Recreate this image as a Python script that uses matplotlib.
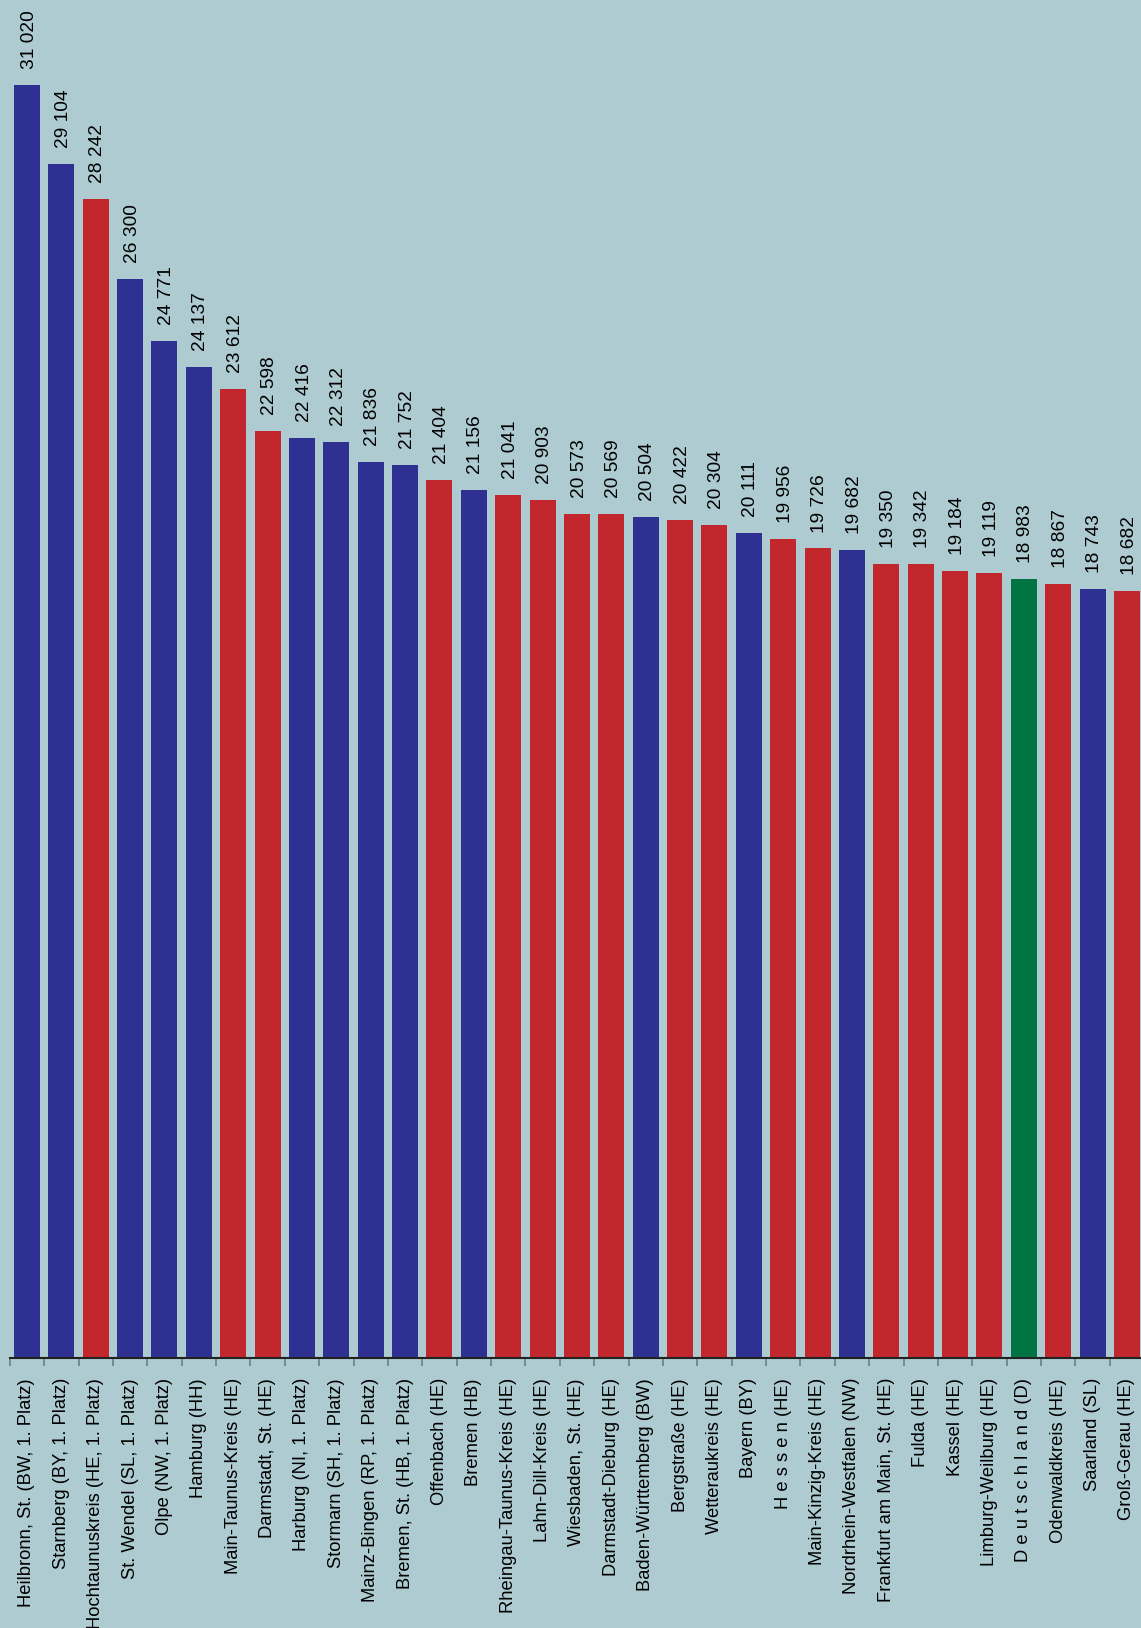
import matplotlib.pyplot as plt
import numpy as np

plt.rcParams['font.family'] = ['Liberation Sans', 'DejaVu Sans']

# Data
regions = [
    'Heilbronn, St. (BW, 1. Platz)', 'Starnberg (BY, 1. Platz)', 'Hochtaunuskreis (HE, 1. Platz)',
    'St. Wendel (SL, 1. Platz)', 'Olpe (NW, 1. Platz)', 'Hamburg (HH)', 'Main-Taunus-Kreis (HE)',
    'Darmstadt, St. (HE)', 'Harburg (NI, 1. Platz)', 'Stormarn (SH, 1. Platz)',
    'Mainz-Bingen (RP, 1. Platz)', 'Bremen, St. (HB, 1. Platz)', 'Offenbach (HE)', 'Bremen (HB)',
    'Rheingau-Taunus-Kreis (HE)', 'Lahn-Dill-Kreis (HE)', 'Wiesbaden, St. (HE)',
    'Darmstadt-Dieburg (HE)', 'Baden-Württemberg (BW)', 'Bergstraße (HE)', 'Wetteraukreis (HE)',
    'Bayern (BY)', 'H e s s e n (HE)', 'Main-Kinzig-Kreis (HE)', 'Nordrhein-Westfalen (NW)',
    'Frankfurt am Main, St. (HE)', 'Fulda (HE)', 'Kassel (HE)', 'Limburg-Weilburg (HE)',
    'D e u t s c h l a n d (D)', 'Odenwaldkreis (HE)', 'Saarland (SL)', 'Groß-Gerau (HE)',
]
values = [31020, 29104, 28242, 26300, 24771, 24137, 23612, 22598, 22416, 22312, 21836, 21752,
          21404, 21156, 21041, 20903, 20573, 20569, 20504, 20422, 20304, 20111, 19956, 19726,
          19682, 19350, 19342, 19184, 19119, 18983, 18867, 18743, 18682]
# b = other state, r = Hessen, g = Germany
groups = ['b', 'b', 'r', 'b', 'b', 'b', 'r', 'r', 'b', 'b', 'b', 'b', 'r', 'b', 'r', 'r', 'r',
          'r', 'b', 'r', 'r', 'b', 'r', 'r', 'b', 'r', 'r', 'r', 'r', 'g', 'r', 'b', 'r']

palette = {'b': '#2e3192', 'r': '#c1272d', 'g': '#007543'}
bg = '#aecbd2'

fig = plt.figure(figsize=(11.41, 16.28), dpi=100, facecolor=bg)
ax = fig.add_axes([9.8 / 1141, 270 / 1628, 33 * 34.375 / 1141, 1358 / 1628])
ax.set_facecolor(bg)

x = np.arange(len(values))
ax.bar(x, values, width=0.756, color=[palette[g] for g in groups])

for xi, v in zip(x, values):
    label = f'{v:,}'.replace(',', ' ')
    ax.annotate(label, (xi, v), xytext=(1.5, 11.5), textcoords='offset points',
                rotation=90, ha='center', va='bottom', fontsize=13.8)

ax.set_xlim(-0.5, len(values) - 0.5)
ax.set_ylim(0, 31020 * 1358 / 1273)

ax.set_xticks(x)
ax.set_xticklabels(regions, rotation=90, fontsize=13.2, va='top', ha='center')
ax.tick_params(axis='x', which='major', length=0, pad=14.4)
ax.set_xticks(np.arange(len(values) + 1) - 0.5, minor=True)
ax.tick_params(axis='x', which='minor', length=6, width=1.2, color='#6f8080')
ax.set_yticks([])

for side in ['top', 'right', 'left']:
    ax.spines[side].set_visible(False)
ax.spines['bottom'].set_color('#222222')
ax.spines['bottom'].set_linewidth(1.5)

fig.savefig('out.png', dpi=100, facecolor=bg)
